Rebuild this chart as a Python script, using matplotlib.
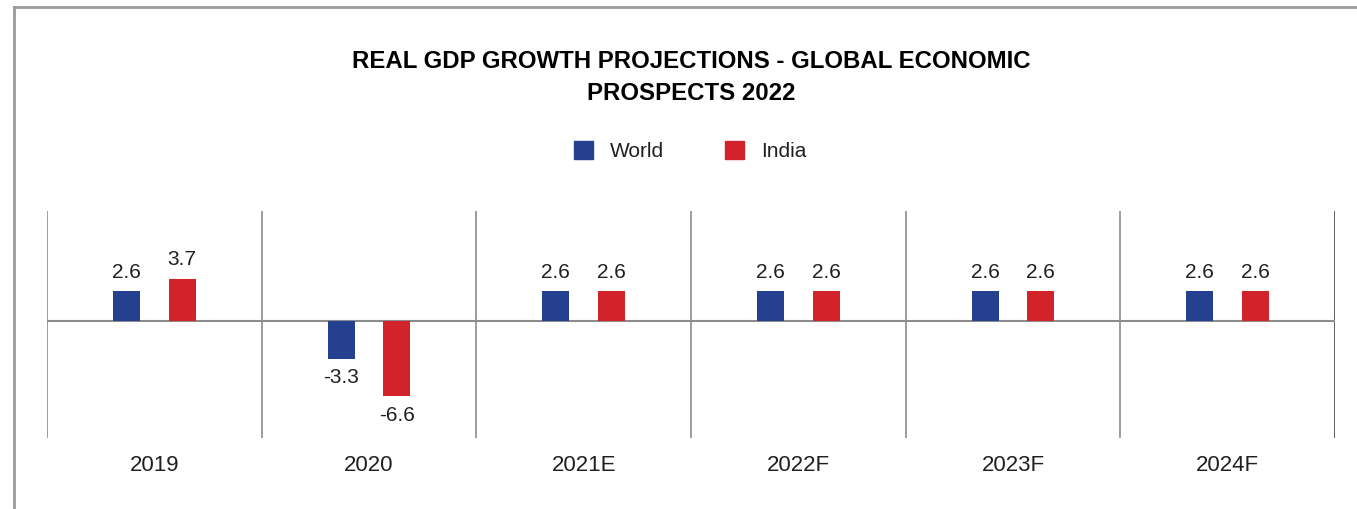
import matplotlib.pyplot as plt
import numpy as np
from matplotlib.lines import Line2D
from matplotlib.patches import Patch

plt.rcParams['font.family'] = ['Liberation Sans', 'DejaVu Sans']

years = ['2019', '2020', '2021E', '2022F', '2023F', '2024F']
world = [2.6, -3.3, 2.6, 2.6, 2.6, 2.6]
india = [3.7, -6.6, 2.6, 2.6, 2.6, 2.6]

blue = '#25408f'
red = '#d2232a'
text_col = '#231f20'

fig = plt.figure(figsize=(13.57, 5.09), dpi=100)
ax = fig.add_axes([47 / 1357, 71 / 509, 1288 / 1357, 227 / 509])

x = np.arange(len(years))
w = 0.125
off = 0.13
b1 = ax.bar(x - off, world, w, color=blue, zorder=3)
b2 = ax.bar(x + off, india, w, color=red, zorder=3)

ax.bar_label(b1, labels=[f'{v:g}' for v in world], padding=7, fontsize=15, color=text_col)
ax.bar_label(b2, labels=[f'{v:g}' for v in india], padding=7, fontsize=15, color=text_col)

# group separators and zero line
for i, s in enumerate(np.arange(-0.5, len(years), 1.0)):
    ax.axvline(s, color='#444444' if i == len(years) else '#8c8c8c', lw=1.2, zorder=1)
ax.axhline(0, color='#8c8c8c', lw=1.5, zorder=2)

ax.set_xlim(-0.5, len(years) - 0.5)
ax.set_ylim(-10.26, 9.65)
ax.set_xticks(x)
ax.set_xticklabels(years, fontsize=16, color=text_col)
ax.tick_params(axis='x', length=0, pad=12)
ax.set_yticks([])
for sp in ax.spines.values():
    sp.set_visible(False)

fig.text(691 / 1357, 1 - 77 / 509,
         'REAL GDP GROWTH PROJECTIONS - GLOBAL ECONOMIC\nPROSPECTS 2022',
         ha='center', va='center', fontsize=17.3, fontweight='bold',
         color='black', linespacing=1.5)

handles = [Patch(color=blue, label='World'), Patch(color=red, label='India')]
fig.legend(handles=handles, loc='center', bbox_to_anchor=(690 / 1357, 1 - 151 / 509),
           ncol=2, frameon=False, fontsize=15, handlelength=0.95, handleheight=0.95,
           columnspacing=2.9, handletextpad=0.8, labelcolor=text_col)

# outer frame (top and left edges)
fig.add_artist(Line2D([14 / 1357, 1], [1 - 7 / 509, 1 - 7 / 509], color='#9a9a9a', lw=2))
fig.add_artist(Line2D([14 / 1357, 14 / 1357], [0, 1 - 7 / 509], color='#9a9a9a', lw=2))

fig.savefig('out.png', dpi=100, facecolor='white')
